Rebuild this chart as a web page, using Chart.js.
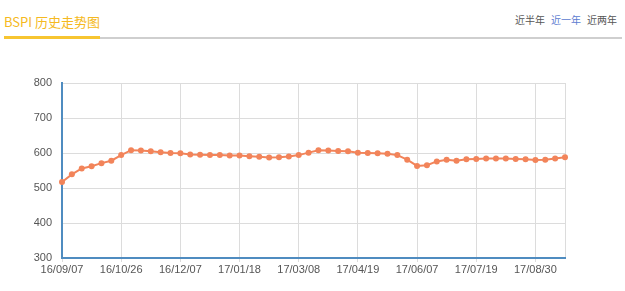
<!DOCTYPE html>
<html>
<head>
<meta charset="utf-8">
<script src="https://cdn.jsdelivr.net/npm/chart.js@4"></script>
<style>
  body { margin: 0; background: #fff; width: 625px; height: 291px; overflow: hidden; position: relative; }
  #title { position: absolute; left: 4px; top: 13px; font: 13px "Noto Sans CJK SC", sans-serif; color: #f5b921; line-height: 18px; }
  #bar-y { position: absolute; left: 4px; top: 36px; width: 96px; height: 3px; background: #f7c531; }
  #bar-g { position: absolute; left: 100px; top: 37px; width: 522px; height: 2px; background: #cfcfcf; }
  #range { position: absolute; right: 8px; top: 12px; font: 10px "Noto Sans CJK SC", sans-serif; color: #555; line-height: 16px; }
  #range span { margin-left: 6px; }
  #range .on { color: #5b7bd0; }
  #wrap { position: absolute; left: 0; top: 0; width: 625px; height: 291px; }
</style>
</head>
<body>
<div id="title">BSPI 历史走势图</div>
<div id="bar-y"></div>
<div id="bar-g"></div>
<div id="range"><span>近半年</span><span class="on">近一年</span><span>近两年</span></div>
<div id="wrap"><canvas id="c"></canvas></div>
<script>
// 周度日期（节假日缺周）
const dates = [
  '16/09/07', '16/09/14', '16/09/21', '16/09/28', '16/10/12', '16/10/19',
  '16/10/26', '16/11/02', '16/11/09', '16/11/16', '16/11/23', '16/11/30',
  '16/12/07', '16/12/14', '16/12/21', '16/12/28', '17/01/04', '17/01/11',
  '17/01/18', '17/01/25', '17/02/08', '17/02/15', '17/02/22', '17/03/01',
  '17/03/08', '17/03/15', '17/03/22', '17/03/29', '17/04/05', '17/04/12',
  '17/04/19', '17/04/26', '17/05/10', '17/05/17', '17/05/24', '17/05/31',
  '17/06/07', '17/06/14', '17/06/21', '17/06/28', '17/07/05', '17/07/12',
  '17/07/19', '17/07/26', '17/08/02', '17/08/09', '17/08/16', '17/08/23',
  '17/08/30', '17/09/06', '17/09/13', '17/09/20'
];

// BSPI 指数
const bspi = [
  517, 539, 556, 562, 571, 578, 594, 608, 607, 605, 602, 600,
  599, 596, 595, 594, 594, 593, 593, 591, 589, 587, 588, 590,
  594, 601, 608, 607, 606, 605, 601, 600, 599, 598, 594, 581,
  563, 565, 576, 581, 578, 582, 583, 584, 584, 584, 583, 582,
  580, 581, 584, 588
];

const yTicks = [300, 400, 500, 600, 700, 800];
const labelEvery = 6;

const axisBlue = '#4f8cc0';
const gridGrey = '#dcdcdc';

function showTick(i) {
  return i % labelEvery === 0 || i === dates.length - 1;
}

new Chart(document.getElementById('c'), {
  type: 'line',
  data: {
    labels: dates,
    datasets: [{
      label: 'BSPI',
      data: bspi,
      borderColor: '#f2845a',
      backgroundColor: '#f2845a',
      borderWidth: 2,
      pointRadius: 3,
      pointBorderWidth: 0,
      pointBackgroundColor: '#f2845a',
      tension: 0
    }]
  },
  options: {
    responsive: true,
    maintainAspectRatio: false,
    animation: false,
    layout: { padding: { top: 83, right: 60, left: 0, bottom: 0 } },
    plugins: { legend: { display: false }, tooltip: { enabled: false } },
    scales: {
      x: {
        type: 'category',
        offset: false,
        afterFit: s => { s.height = 33; },
        border: { color: axisBlue, width: 2 },
        grid: {
          color: ctx => showTick(ctx.index) ? gridGrey : 'rgba(0,0,0,0)',
          tickLength: 4,
          tickColor: ctx => (ctx.index % labelEvery === 0) ? gridGrey : 'rgba(0,0,0,0)'
        },
        ticks: {
          autoSkip: false,
          maxRotation: 0,
          padding: 1,
          color: '#555',
          font: { family: 'Liberation Sans', size: 11 },
          callback: function (v, i) { return i % labelEvery === 0 ? dates[i] : ''; }
        }
      },
      y: {
        min: yTicks[0],
        max: yTicks[yTicks.length - 1],
        afterFit: s => { s.width = 62; },
        afterBuildTicks: s => { s.ticks = yTicks.map(v => ({ value: v })); },
        border: { color: axisBlue, width: 2 },
        grid: { color: gridGrey, drawTicks: false },
        ticks: {
          padding: 10,
          color: '#555',
          font: { family: 'Liberation Sans', size: 11 }
        }
      }
    }
  }
});
</script>
</body>
</html>
